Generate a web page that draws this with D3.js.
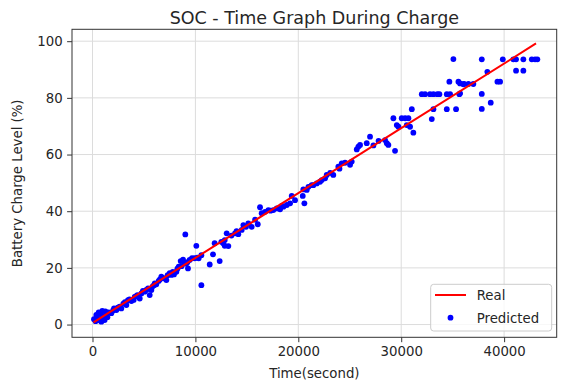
<!DOCTYPE html>
<html>
<head>
<meta charset="utf-8">
<script src="https://cdn.jsdelivr.net/npm/d3@7"></script>
<style>
  html, body { margin: 0; padding: 0; background: #fff; }
  svg { display: block; font-family: "DejaVu Sans", sans-serif; }
</style>
</head>
<body>
<svg id="chart" width="564" height="383"></svg>
<script>
// ---- data ----
const titleText = "SOC - Time Graph During Charge";
const xLabel = "Time(second)";
const yLabel = "Battery Charge Level (%)";
const xTicks = [0, 10000, 20000, 30000, 40000];
const yTicks = [0, 20, 40, 60, 80, 100];
const legendLabels = ["Real", "Predicted"];

// Real SOC (line)
const realTime = [100, 10000, 20000, 30000, 43100];
const realSOC  = [0.8, 23.5, 46.4, 69.3, 99.2];

// Predicted SOC (scatter)
const predTime = [
  146, 370, 600, 800, 1020, 860, 1180, 1340, 1570, 1830, 300, 500, 950, 1450, 700, 1250,
  2090, 2320, 2640, 2800, 3290, 3450, 3780, 4100, 4360, 4590, 4750, 5070, 5230, 5560,
  5720, 5980, 6200, 6430, 6690, 6950, 7180, 7500, 7660, 7920, 8150, 8380, 8570, 8800,
  8960, 9220, 9280, 9440, 9670, 9930, 10190, 10320, 10580, 10090, 9020, 10580, 11390,
  11710, 11870, 12360, 12520, 12850, 12850, 2450, 3000, 3600, 4000, 4900, 5400, 6050,
  6550, 7300, 7800, 8250, 2000, 3150, 4250, 5850, 6800, 8650, 9100,
  12710, 13040, 13200, 13850, 14170, 14500, 14660, 14920, 15140, 15470, 16060, 16280,
  16440, 16770, 17090, 17570, 17900, 18230, 18550, 18880, 19200, 19360, 19680, 20430,
  20590, 20490, 20980, 21460, 21790, 22110, 13500, 14000, 15800, 17300, 18400,
  20820, 21300, 22280, 22600, 22760, 23400, 23890, 24220, 24540, 25190, 25030, 25680,
  25840, 26000, 26650, 26970, 28600, 28750, 29400, 29240, 29570, 23100, 24000, 27300,
  27800, 28430, 29730, 30050, 30380, 30700, 30860, 31180, 31030, 30540, 32970, 33130,
  34430, 35330, 32000, 32320, 32800, 33130, 33510, 33710, 34430, 34750, 35650,
  34680, 35560, 36040, 35070,
  35720, 36110, 36530, 37010, 35720, 37830, 38370, 37830, 38700, 37830, 39350, 39610,
  39870, 40900, 41160, 41870, 42690, 43010, 43230, 41160, 41870
];
const predSOC = [
  1.9, 3.4, 4.3, 3.6, 2.8, 1.0, 1.6, 3.4, 4.3, 4.0, 1.2, 2.0, 4.8, 2.6, 1.5, 4.6,
  5.7, 5.1, 6.3, 5.7, 6.9, 8.6, 8.3, 9.8, 10.4, 9.2, 11.0, 11.6, 12.2, 10.4,
  12.2, 13.9, 14.2, 15.4, 16.9, 16.3, 15.7, 18.1, 17.5, 17.7, 18.6, 20.4, 22.4, 22.9,
  21.6, 22.0, 19.8, 22.8, 23.4, 23.4, 23.6, 23.4, 24.5, 27.8, 31.8, 13.9, 21.2,
  24.8, 28.7, 22.4, 29.2, 27.8, 29.8, 6.0, 7.4, 8.9, 8.7, 11.9, 12.8, 14.5,
  15.9, 17.4, 18.6, 19.7, 5.0, 7.9, 10.0, 13.5, 16.5, 20.6, 21.5,
  28.7, 32.2, 27.7, 32.2, 31.9, 33.4, 35.1, 34.5, 35.7, 34.5, 35.4, 41.4,
  39.3, 39.8, 40.4, 40.4, 41.0, 40.7, 41.6, 42.2, 42.8, 45.4, 43.9, 45.4,
  42.8, 47.7, 48.6, 49.2, 49.8, 50.4, 31.4, 33.0, 37.0, 40.2, 41.9,
  47.5, 49.2, 51.0, 51.6, 52.8, 52.8, 55.7, 56.9, 57.1, 57.5, 56.4, 61.8,
  62.8, 63.4, 64.0, 66.3, 64.0, 63.4, 61.3, 72.8, 70.4, 53.5, 55.0, 63.2,
  64.8, 65.1, 69.8, 72.8, 72.8, 72.8, 69.8, 67.7, 76.0, 70.4, 72.5, 76.0,
  76.0, 76.0, 81.3, 81.3, 81.3, 81.3, 81.3, 81.3, 81.3, 81.3, 81.3,
  85.7, 85.7, 84.8, 93.7,
  85.1, 84.9, 84.9, 84.9, 81.6, 93.6, 89.2, 81.4, 78.3, 76.1, 85.7, 85.7,
  93.6, 93.6, 93.6, 93.6, 93.6, 93.6, 93.6, 89.6, 89.6
];

// ---- layout ----
const svg = d3.select("#chart");
const L = 72, R = 556.7, T = 29.3, B = 337.3;

const x = d3.scaleLinear().domain([-1992, 45110]).range([L, R]);
const y = d3.scaleLinear().domain([-4.5, 104.2]).range([B, T]);

// grid
const grid = svg.append("g");
grid.selectAll("line.vx").data(xTicks).join("line")
  .attr("x1", d => x(d)).attr("x2", d => x(d))
  .attr("y1", T).attr("y2", B)
  .attr("stroke", "#dcdcdc").attr("stroke-width", 1);
grid.selectAll("line.hy").data(yTicks).join("line")
  .attr("x1", L).attr("x2", R)
  .attr("y1", d => y(d)).attr("y2", d => y(d))
  .attr("stroke", "#dcdcdc").attr("stroke-width", 1);

// axes
const xAxis = d3.axisBottom(x).tickValues(xTicks).tickSize(4.9).tickPadding(4.5).tickFormat(d3.format("d"));
const yAxis = d3.axisLeft(y).tickValues(yTicks).tickSize(4.9).tickPadding(4.5).tickFormat(d3.format("d"));

const gx = svg.append("g").attr("transform", `translate(0,${B})`).call(xAxis);
const gy = svg.append("g").attr("transform", `translate(${L},0)`).call(yAxis);
[gx, gy].forEach(g => {
  g.select(".domain").remove();
  g.selectAll(".tick line").attr("stroke", "#333").attr("stroke-width", 1);
  g.selectAll(".tick text").attr("fill", "#262626")
    .style("font-family", "DejaVu Sans").style("font-size", "13.3px");
});

const realPts = realTime.map((t, i) => [t, realSOC[i]]);
const predPts = predTime.map((t, i) => [t, predSOC[i]]);

// scatter (under the line, as in the reference)
svg.append("g").selectAll("circle").data(predPts).join("circle")
  .attr("cx", d => x(d[0])).attr("cy", d => y(d[1]))
  .attr("r", 2.9).attr("fill", "#0000ff");

// real line on top
svg.append("path")
  .datum(realPts)
  .attr("fill", "none")
  .attr("stroke", "#ff0000")
  .attr("stroke-width", 2)
  .attr("d", d3.line().x(d => x(d[0])).y(d => y(d[1])));

// frame
svg.append("rect")
  .attr("x", L).attr("y", T).attr("width", R - L).attr("height", B - T)
  .attr("fill", "none").attr("stroke", "#333").attr("stroke-width", 1);

// title & labels
svg.append("text").attr("x", (L + R) / 2).attr("y", 23.5)
  .attr("text-anchor", "middle").attr("fill", "#262626")
  .style("font-size", "17.5px").text(titleText);

svg.append("text").attr("x", (L + R) / 2).attr("y", 378)
  .attr("text-anchor", "middle").attr("fill", "#262626")
  .style("font-size", "13.3px").text(xLabel);

svg.append("text")
  .attr("transform", `translate(22,${(T + B) / 2}) rotate(-90)`)
  .attr("text-anchor", "middle").attr("fill", "#262626")
  .style("font-size", "13.3px").text(yLabel);

// legend
const lg = svg.append("g");
lg.append("rect").attr("x", 430.7).attr("y", 284.3).attr("width", 121).attr("height", 46.7)
  .attr("rx", 3).attr("fill", "#fff").attr("fill-opacity", 0.8)
  .attr("stroke", "#cccccc").attr("stroke-width", 1);
lg.append("line").attr("x1", 435).attr("x2", 466).attr("y1", 295).attr("y2", 295)
  .attr("stroke", "#ff0000").attr("stroke-width", 2);
lg.append("circle").attr("cx", 450.5).attr("cy", 317.7).attr("r", 2.9).attr("fill", "#0000ff");
lg.selectAll("text").data(legendLabels).join("text")
  .attr("x", 476.7).attr("y", (d, i) => 300 + i * 22.5)
  .attr("fill", "#262626").style("font-size", "13.3px").text(d => d);
</script>
</body>
</html>
